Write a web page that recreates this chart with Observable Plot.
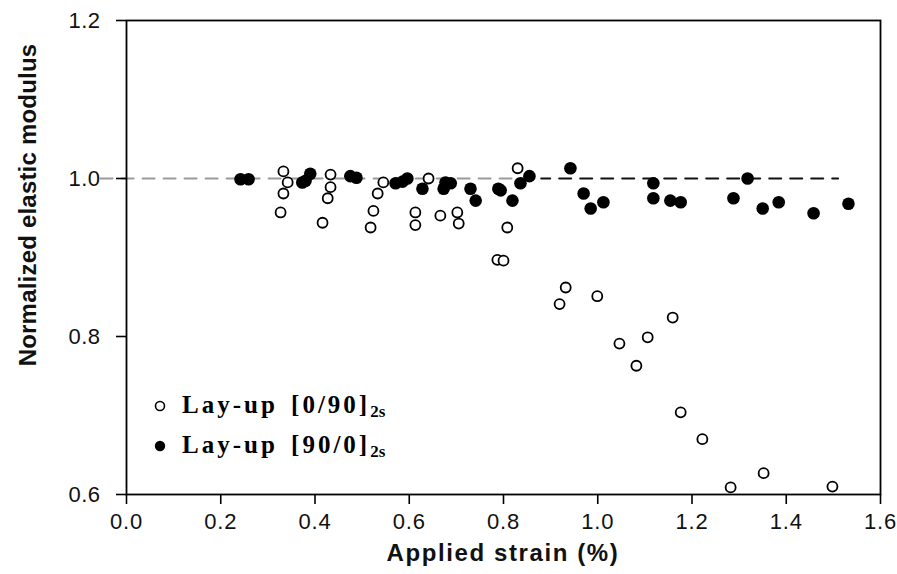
<!DOCTYPE html>
<html>
<head>
<meta charset="utf-8">
<script src="https://cdn.jsdelivr.net/npm/d3@7"></script>
<script src="https://cdn.jsdelivr.net/npm/@observablehq/plot@0.6"></script>
<style>
  html, body { margin: 0; padding: 0; background: #fff; }
  #wrap { position: relative; width: 897px; height: 574px; overflow: hidden; }
  #wrap > svg { position: absolute; left: 0; top: 0; }
  .ttl { position: absolute; font-family: "Liberation Sans", Arial, sans-serif; font-weight: bold; font-size: 24px; color: #111; white-space: nowrap; }
  #xt { left: 0; width: 1006px; top: 539px; text-align: center; letter-spacing: 1.6px; }
  #yt { left: 28px; top: 205px; transform: translate(-50%, -50%) rotate(-90deg); letter-spacing: 0.2px; }
  #legend { position: absolute; left: 153px; top: 386px; font-family: "Liberation Serif", "Times New Roman", serif; font-weight: bold; font-size: 25px; color: #000; }
  #legend .row { height: 40px; display: flex; align-items: center; white-space: nowrap; }
  #legend svg { position: static; margin-right: 15px; }
  #legend sub { font-size: 17px; vertical-align: -4px; letter-spacing: 0; }
  #legend .lab { letter-spacing: 3px; word-spacing: 4px; }
</style>
</head>
<body>
<div id="wrap">
  <div id="yt" class="ttl">Normalized elastic modulus</div>
  <div id="xt" class="ttl">Applied strain (%)</div>
  <div id="legend"></div>
</div>
<script>
// Lay-up [0/90]2s (open circles)
const openX = [0.333, 0.342, 0.333, 0.327, 0.433, 0.433, 0.427, 0.416, 0.545, 0.533, 0.524, 0.518,
  0.641, 0.613, 0.613, 0.666, 0.702, 0.705, 0.830, 0.808, 0.787, 0.800, 0.932, 0.919, 0.999,
  1.046, 1.106, 1.159, 1.082, 1.176, 1.222, 1.282, 1.352, 1.498];
const openY = [1.009, 0.995, 0.981, 0.957, 1.005, 0.989, 0.975, 0.944, 0.995, 0.981, 0.959, 0.938,
  1.000, 0.957, 0.941, 0.953, 0.957, 0.943, 1.013, 0.938, 0.897, 0.896, 0.862, 0.841, 0.851,
  0.791, 0.799, 0.824, 0.763, 0.704, 0.670, 0.609, 0.627, 0.610];
// Lay-up [90/0]2s (filled circles)
const fillX = [0.242, 0.259, 0.373, 0.380, 0.390, 0.475, 0.488, 0.571, 0.586, 0.596, 0.628, 0.673,
  0.677, 0.688, 0.730, 0.741, 0.789, 0.794, 0.819, 0.836, 0.855, 0.942, 0.970, 0.985, 1.012,
  1.118, 1.118, 1.154, 1.176, 1.288, 1.318, 1.350, 1.384, 1.458, 1.532];
const fillY = [0.999, 0.999, 0.995, 0.997, 1.006, 1.003, 1.001, 0.994, 0.996, 1.000, 0.987, 0.987,
  0.995, 0.994, 0.987, 0.972, 0.987, 0.985, 0.972, 0.994, 1.003, 1.013, 0.981, 0.962, 0.970,
  0.994, 0.975, 0.972, 0.970, 0.975, 1.000, 0.962, 0.970, 0.956, 0.968];
// reference line at 1.0 (gray left part, dark right part)
const refGrayX = [-0.055, 0.88];
const refDarkX = [0.88, 1.51];
const refY = 1.0;
// axes
const xTicks = [0, 0.2, 0.4, 0.6, 0.8, 1.0, 1.2, 1.4, 1.6];
const yTicks = [0.6, 0.8, 1.0, 1.2];
const seriesNames = ["Lay-up  [0/90]", "Lay-up  [90/0]"];
const seriesSub = "2s";

const openData = openX.map((x, i) => ({x, y: openY[i]}));
const fillData = fillX.map((x, i) => ({x, y: fillY[i]}));
const grayLine = refGrayX.map(x => ({x, y: refY}));
const darkLine = refDarkX.map(x => ({x, y: refY}));

const fmt = d3.format(".1f");
const chart = Plot.plot({
  width: 897,
  height: 574,
  marginLeft: 126,
  marginRight: 17,
  marginTop: 20,
  marginBottom: 80,
  style: {fontFamily: "'Liberation Sans', Arial, sans-serif", background: "#fff", color: "#111"},
  x: {domain: [0, 1.6]},
  y: {domain: [0.6, 1.2]},
  marks: [
    Plot.line(grayLine, {x: "x", y: "y", stroke: "#9a9a9a", strokeWidth: 2, strokeDasharray: "12,9"}),
    Plot.line(darkLine, {x: "x", y: "y", stroke: "#111", strokeWidth: 2, strokeDasharray: "12,9", strokeDashoffset: 3}),
    Plot.axisX(xTicks, {tickSize: 10, tickPadding: 9, tickFormat: fmt, fontSize: 22, label: null, strokeWidth: 1.6, stroke: "#000"}),
    Plot.axisY(yTicks, {tickSize: 10, tickPadding: 8, tickFormat: fmt, fontSize: 22, label: null, strokeWidth: 1.6, stroke: "#000"}),
    Plot.frame({stroke: "#000", strokeWidth: 1.8}),
    Plot.dot(openData, {x: "x", y: "y", r: 5, fill: "#fff", stroke: "#000", strokeWidth: 1.8}),
    Plot.dot(fillData, {x: "x", y: "y", r: 6.3, fill: "#000", stroke: "none"})
  ]
});
document.getElementById("wrap").prepend(chart);
d3.select(chart).selectAll("g[aria-label='x-axis tick label'] text").style("letter-spacing", "0.8px");
d3.select(chart).selectAll("g[aria-label='y-axis tick label'] text").attr("x", -8).style("letter-spacing", "0.5px");

const leg = d3.select("#legend");
const styles = [{fill: "#fff", stroke: "#000", sw: 1.6, r: 4.5}, {fill: "#000", stroke: "none", sw: 0, r: 5.2}];
seriesNames.forEach((name, i) => {
  const row = leg.append("div").attr("class", "row");
  const s = row.append("svg").attr("width", 14).attr("height", 14);
  s.append("circle").attr("cx", 7).attr("cy", 7).attr("r", styles[i].r)
    .attr("fill", styles[i].fill).attr("stroke", styles[i].stroke).attr("stroke-width", styles[i].sw);
  const lab = row.append("span").attr("class", "lab");
  lab.append("span").text(name);
  lab.append("sub").text(seriesSub);
});
</script>
</body>
</html>
